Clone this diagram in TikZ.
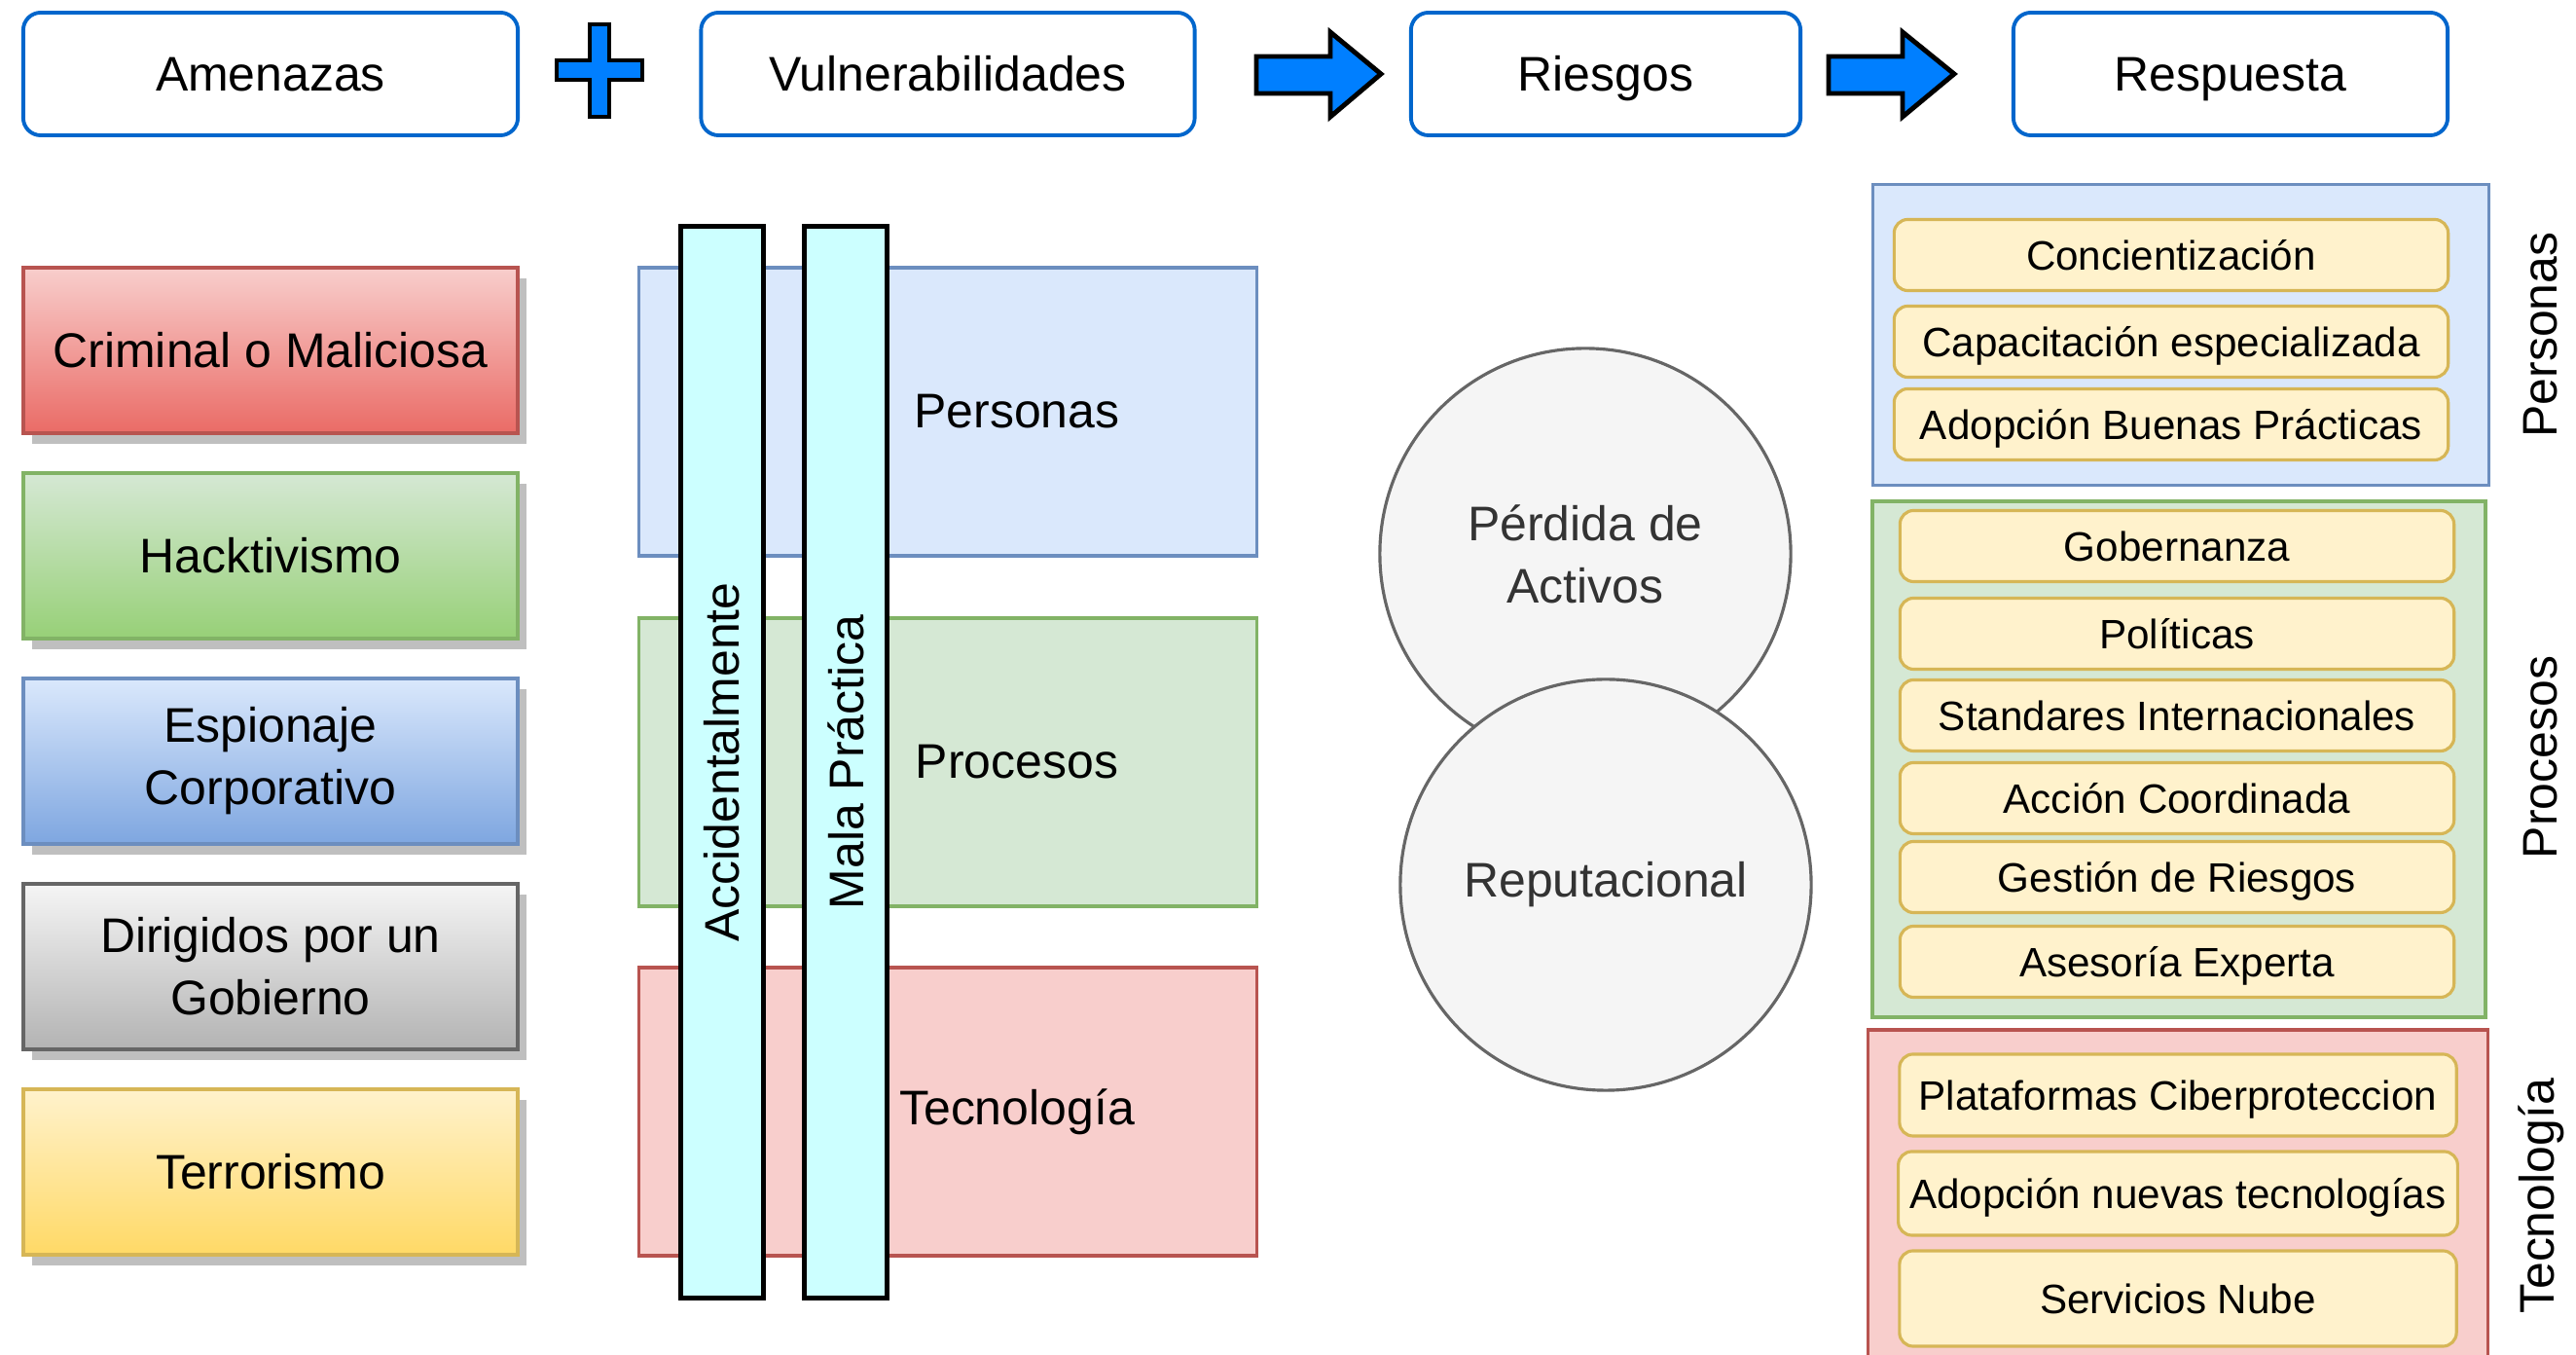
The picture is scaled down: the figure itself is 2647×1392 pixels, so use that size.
\documentclass[tikz,border=0pt]{standalone}
\usepackage{fontspec}
\setmainfont{Liberation Sans}
\usetikzlibrary{shadows}

\definecolor{topblue}{HTML}{0066CC}
\definecolor{arrowblue}{HTML}{007FFF}
\definecolor{bluefill}{HTML}{DAE8FC}
\definecolor{blueline}{HTML}{6C8EBF}
\definecolor{bluebot}{HTML}{7EA6E0}
\definecolor{greenfill}{HTML}{D5E8D4}
\definecolor{greenline}{HTML}{82B366}
\definecolor{greenbot}{HTML}{97D077}
\definecolor{redfill}{HTML}{F8CECC}
\definecolor{redline}{HTML}{B85450}
\definecolor{redbot}{HTML}{EA6B66}
\definecolor{grayfill}{HTML}{F5F5F5}
\definecolor{grayline}{HTML}{666666}
\definecolor{graybot}{HTML}{B3B3B3}
\definecolor{yelfill}{HTML}{FFF2CC}
\definecolor{yelline}{HTML}{D6B656}
\definecolor{yelbot}{HTML}{FFD966}
\definecolor{barcyan}{HTML}{CCFFFF}
\definecolor{darktext}{HTML}{333333}

\newcommand{\bigtxt}{\fontsize{14.2}{18.2}\selectfont}
\newcommand{\smalltxt}{\fontsize{12}{14.4}\selectfont}

\begin{document}
\begin{tikzpicture}[x=0.01cm,y=-0.01cm]
\tikzstyle{title} = [draw=topblue, fill=white, line width=1.1pt, rounded corners=0.18cm, minimum height=1.26cm, text height=10.2pt, text depth=0pt, font=\bigtxt]
\tikzstyle{sign} = [draw=black, fill=arrowblue, line width=1.4pt]
\tikzstyle{threat} = [minimum width=5.08cm, minimum height=1.7cm, line width=1pt, align=center, font=\bigtxt, drop shadow={shadow xshift=0.09cm, shadow yshift=-0.11cm, fill=black!25, opacity=1}]
\tikzstyle{layer} = [minimum width=6.35cm, minimum height=2.96cm, line width=1pt]
\tikzstyle{bar} = [draw=black, fill=barcyan, line width=1.4pt, minimum width=11cm, minimum height=0.85cm, rotate=90, font=\bigtxt]
\tikzstyle{risk} = [circle, draw=grayline, fill=grayfill, line width=0.9pt, minimum size=4.22cm, text=darktext, align=center, font=\bigtxt]
\tikzstyle{group} = [line width=1pt]
\tikzstyle{item} = [draw=yelline, fill=yelfill, line width=0.9pt, rounded corners=0.14cm, minimum width=5.69cm, minimum height=0.73cm, text height=8.7pt, text depth=0pt, font=\smalltxt]
\tikzstyle{side} = [rotate=90, font=\bigtxt]

\useasboundingbox (0,0) rectangle (2647,1392);
\fill[white] (0,0) rectangle (2647,1392);

% top row
\node[title, minimum width=5.08cm] (h1) at (278,76) {Amenazas};
\node[title, minimum width=5.07cm] (h2) at (974,76) {Vulnerabilidades};
\node[title, minimum width=4.00cm] (h3) at (1650,76) {Riesgos};
\node[title, minimum width=4.46cm] (h4) at (2292,76) {Respuesta};

\draw[sign] (606,25) -- (626,25) -- (626,62) -- (660,62) -- (660,82) -- (626,82) -- (626,120)
  -- (606,120) -- (606,82) -- (572,82) -- (572,62) -- (606,62) -- cycle;
\draw[sign] (1291,58) -- (1367,58) -- (1367,33) -- (1419,76) -- (1367,120) -- (1367,96) -- (1291,96) -- cycle;
\draw[sign] (1879,58) -- (1955,58) -- (1955,33) -- (2008,76) -- (1955,120) -- (1955,96) -- (1879,96) -- cycle;

% amenazas
\node[threat, draw=redline, top color=redfill, bottom color=redbot] (t1) at (278,360) {Criminal o Maliciosa};
\node[threat, draw=greenline, top color=greenfill, bottom color=greenbot] (t2) at (278,571) {Hacktivismo};
\node[threat, draw=blueline, top color=bluefill, bottom color=bluebot] (t3) at (278,782) {Espionaje\\Corporativo};
\node[threat, draw=grayline, top color=grayfill, bottom color=graybot] (t4) at (278,993) {Dirigidos por un\\Gobierno};
\node[threat, draw=yelline, top color=yelfill, bottom color=yelbot] (t5) at (278,1204) {Terrorismo};

% vulnerabilidades
\node[layer, draw=blueline, fill=bluefill] (v1) at (974,423) {};
\node[layer, draw=greenline, fill=greenfill] (v2) at (974,783) {};
\node[layer, draw=redline, fill=redfill] (v3) at (974,1142) {};
\node[font=\bigtxt] (l1) at (1045,423) {Personas};
\node[font=\bigtxt] (l2) at (1045,783) {Procesos};
\node[font=\bigtxt] (l3) at (1045,1142) {Tecnología};
\node[bar] (b1) at (742,783) {Accidentalmente};
\node[bar] (b2) at (869,783) {Mala Práctica};

% riesgos
\node[risk] (r1) at (1629,569) {Pérdida de\\Activos};
\node[risk] (r2) at (1650,909) {Reputacional};

% respuesta
\node[group, draw=blueline, fill=bluefill, minimum width=6.33cm, minimum height=3.09cm] (g1) at (2241,344) {};
\node[group, draw=greenline, fill=greenfill, minimum width=6.30cm, minimum height=5.30cm] (g2) at (2239,780) {};
\node[group, draw=redline, fill=redfill, minimum width=6.37cm, minimum height=3.62cm] (g3) at (2238,1239) {};

\node[item] (p1) at (2231,262) {Concientización};
\node[item] (p2) at (2231,351) {Capacitación especializada};
\node[item] (p3) at (2231,436) {Adopción Buenas Prácticas};

\node[item] (q1) at (2237,561) {Gobernanza};
\node[item] (q2) at (2237,651) {Políticas};
\node[item] (q3) at (2237,735) {Standares Internacionales};
\node[item] (q4) at (2237,820) {Acción Coordinada};
\node[item] (q5) at (2237,901) {Gestión de Riesgos};
\node[item] (q6) at (2237,988) {Asesoría Experta};

\node[item, minimum width=5.72cm, minimum height=0.84cm] (c1) at (2238,1125) {Plataformas Ciberproteccion};
\node[item, minimum width=5.72cm, minimum height=0.86cm] (c2) at (2238,1226) {Adopción nuevas tecnologías};
\node[item, minimum width=5.72cm, minimum height=0.98cm] (c3) at (2238,1334) {Servicios Nube};

\node[side] (s1) at (2611,344) {Personas};
\node[side] (s2) at (2611,778) {Procesos};
\node[side] (s3) at (2611,1229) {Tecnología};
\end{tikzpicture}
\end{document}
